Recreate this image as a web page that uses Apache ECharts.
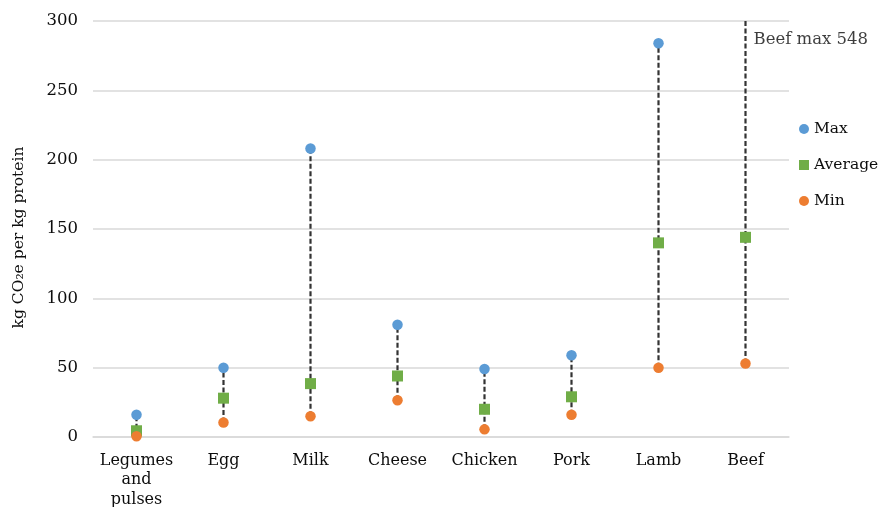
<!DOCTYPE html>
<html><head><meta charset="utf-8">
<script src="https://cdn.jsdelivr.net/npm/echarts@6/dist/echarts.min.js"></script>
<style>html,body{margin:0;padding:0;background:#fff}#c{width:878px;height:507px}</style>
</head><body><div id="c"></div>
<script>
var categories = ['Legumes\nand\npulses', 'Egg', 'Milk', 'Cheese', 'Chicken', 'Pork', 'Lamb', 'Beef'];
var maxValues = [16, 50, 208, 81, 49, 59, 284, 548];
var avgValues = [4.5, 28, 38.5, 44, 20, 29, 140, 144];
var minValues = [0.5, 10.5, 15, 26.5, 5.5, 16, 50, 53];
var yTicks = {min: 0, max: 300, interval: 50};

var FONT = 'DejaVu Serif';
var TXT = '#0d0d0d';
var chart = echarts.init(document.getElementById('c'));
var rangeData = categories.map(function (c, i) { return [i, minValues[i], maxValues[i]]; });
var overflow = [];
categories.forEach(function (c, i) {
  if (maxValues[i] > yTicks.max) overflow.push({value: [i, yTicks.max], name: c.split('\n')[0] + ' max ' + maxValues[i]});
});
chart.setOption({
  animation: false,
  grid: {left: 93, right: 89, top: 21, bottom: 70, outerBoundsMode: 'none', containLabel: false},
  legend: {
    orient: 'vertical', left: 799, top: 121, padding: 0, itemGap: 20, itemWidth: 10, itemHeight: 10,
    textStyle: {fontFamily: FONT, fontSize: 15.5, color: TXT},
    data: [{name: 'Max', icon: 'circle'}, {name: 'Average', icon: 'rect'}, {name: 'Min', icon: 'circle'}]
  },
  xAxis: {
    type: 'category', data: categories,
    axisLine: {lineStyle: {color: '#d9d9d9', width: 1.5}},
    axisTick: {show: false},
    axisLabel: {fontFamily: FONT, fontSize: 16, color: TXT, margin: 14, lineHeight: 19.5, interval: 0}
  },
  yAxis: {
    type: 'value', min: yTicks.min, max: yTicks.max, interval: yTicks.interval,
    name: 'kg CO\u2082e per kg protein', nameLocation: 'middle', nameGap: 66, nameRotate: 90,
    nameTextStyle: {fontFamily: FONT, fontSize: 15.5, color: TXT, padding: [0, 17, 0, 0]},
    axisLine: {show: false}, axisTick: {show: false},
    axisLabel: {fontFamily: FONT, fontSize: 16.5, color: TXT, margin: 15},
    splitLine: {lineStyle: {color: '#d9d9d9', width: 1.5}}
  },
  series: [
    {
      type: 'custom', clip: true, silent: true, z: 1,
      encode: {x: 0, y: [1, 2]},
      data: rangeData,
      renderItem: function (params, api) {
        var p1 = api.coord([api.value(0), api.value(1)]);
        var p2 = api.coord([api.value(0), api.value(2)]);
        return {type: 'line', shape: {x1: p1[0], y1: p1[1], x2: p2[0], y2: p2[1]},
          style: {stroke: '#333', lineWidth: 2.2, lineDash: [5, 2.5]}};
      }
    },
    {name: 'Max', type: 'scatter', data: maxValues, symbol: 'circle', symbolSize: 10.5, itemStyle: {color: '#5B9BD5', opacity: 1}, z: 3, clip: true},
    {name: 'Average', type: 'scatter', data: avgValues, symbol: 'rect', symbolSize: 11, itemStyle: {color: '#70AD47', opacity: 1}, z: 3},
    {name: 'Min', type: 'scatter', data: minValues, symbol: 'circle', symbolSize: 10.5, itemStyle: {color: '#ED7D31', opacity: 1}, z: 3},
    {
      type: 'scatter', data: overflow, symbolSize: 0, clip: false, silent: true,
      label: {show: true, position: 'right', distance: 8, offset: [0, 19], formatter: '{b}',
        fontFamily: FONT, fontSize: 16.5, color: TXT}
    }
  ]
});
</script></body></html>
